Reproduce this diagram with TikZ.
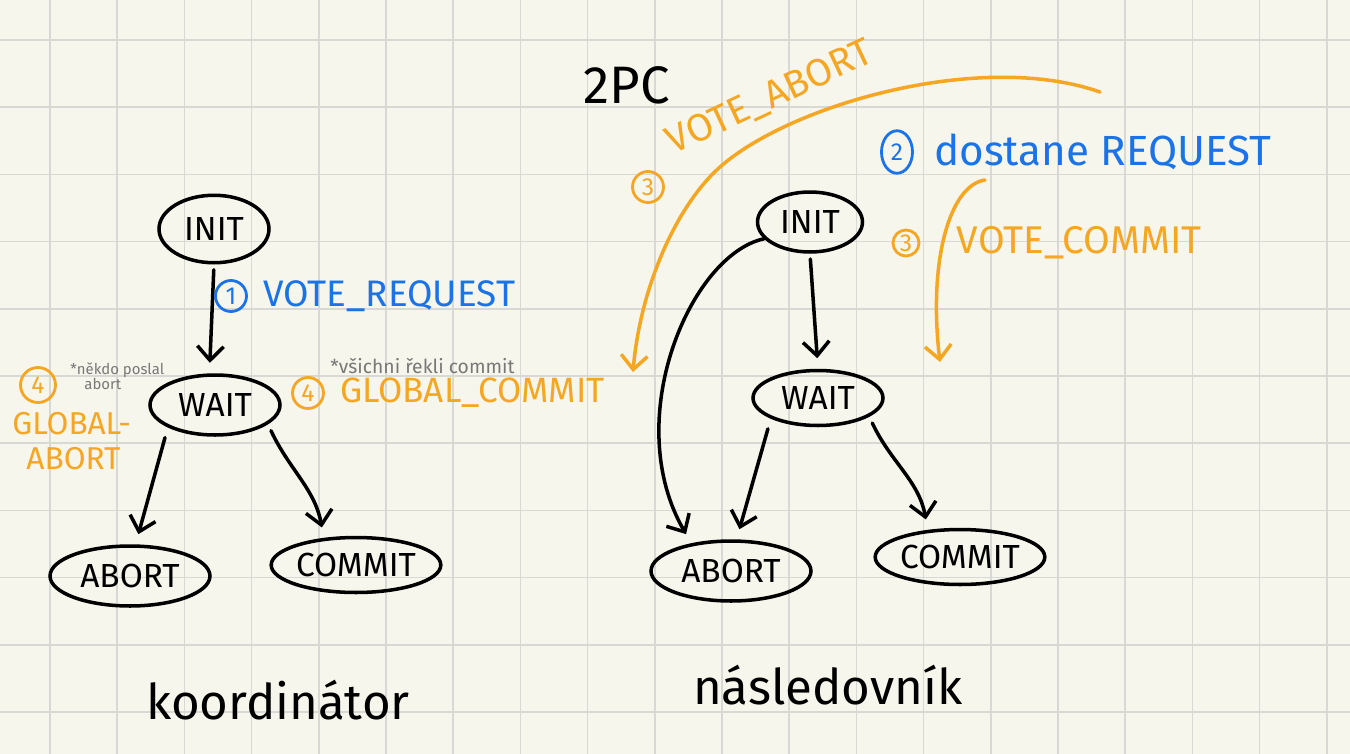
\documentclass[tikz,border=0pt]{standalone}
\usepackage{fontspec}
\setmainfont{Fira Sans}
\usetikzlibrary{arrows.meta, positioning, shapes.geometric, calc}
\definecolor{PaperBg}{RGB}{247,246,236}
\definecolor{GridGray}{RGB}{216,216,212}
\definecolor{PenOrange}{RGB}{245,166,35}
\definecolor{PenBlue}{RGB}{26,115,232}
\definecolor{PenGray}{RGB}{120,120,120}

\begin{document}
\begin{tikzpicture}[x=0.02cm, y=-0.02cm]

\tikzset{
stnode/.style args={#1/#2}{
draw,
ellipse,
line width=2pt,
inner sep=0pt,
minimum width=#1,
minimum height=#2,
font=\fontsize{19}{22}\selectfont
},
arr/.style={-{Straight Barb[length=8pt,width=15pt]}, line width=2pt, line cap=round, shorten >=6pt},
note/.style={-{Straight Barb[length=8pt,width=15pt]}, PenOrange, line width=2pt, line cap=round},
num/.style={draw=#1, text=#1, circle, line width=1.6pt, inner sep=0pt, minimum size=0.62cm,
font=\fontsize{14}{16}\selectfont},
lbl/.style={text=#1, inner sep=0pt}
}

\useasboundingbox (0,0) rectangle (1350,754);
\fill[PaperBg] (0,0) rectangle (1350,754);
\foreach \i in {0,...,19}
\draw[GridGray, line width=1pt] ({50+67.2*\i},0) -- ({50+67.2*\i},754);
\foreach \j in {0,...,10}
\draw[GridGray, line width=1pt] (0,{40+67.2*\j}) -- (1350,{40+67.2*\j});

\node[font=\fontsize{30}{34}\selectfont] (title) at (627,85) {2PC};

\node[stnode={2.2cm/1.35cm}] (initK) at (214,229) {INIT};
\node[stnode={2.6cm/1.2cm}] (waitK) at (215,405) {WAIT};
\node[stnode={3.2cm/1.2cm}] (abortK) at (130,576) {ABORT};
\node[stnode={3.2cm/1.1cm}] (commitK) at (356,565) {COMMIT};

\node[stnode={2.1cm/1.2cm}] (initN) at (810,222) {INIT};
\node[stnode={2.6cm/1.1cm}] (waitN) at (818,398) {WAIT};
\node[stnode={3.2cm/1.2cm}] (abortN) at (731,571) {ABORT};
\node[stnode={3.2cm/1.1cm}] (commitN) at (960,557) {COMMIT};

\draw[arr, shorten <=3pt] (initK.south) -- (waitK.100);
\draw[arr, shorten <=6pt] (waitK.south west) -- (abortK.80);
\draw[arr, shorten <=4pt] (waitK.-20) to[out=-65, in=100] (commitK.140);

\draw[arr, shorten <=3pt] (initN.south) -- (waitN.north);
\draw[arr] (initN.200) .. controls (690,255) and (620,420) .. (abortN.145);
\draw[arr, shorten <=6pt] (waitN.south west) -- (abortN.80);
\draw[arr, shorten <=4pt] (waitN.-20) to[out=-65, in=100] (commitN.140);

\node[num=PenBlue] (n1) at (231,296) {1};
\node[lbl=PenBlue, font=\fontsize{21}{24}\selectfont, right=0.3cm of n1] (voteReq) {VOTE\_REQUEST};

\node[num=PenOrange] (n4c) at (308,393) {4};
\node[lbl=PenOrange, font=\fontsize{20}{24}\selectfont, right=0.3cm of n4c] (globCommit) {GLOBAL\_COMMIT};
\node[lbl=PenGray, font=\fontsize{11}{13}\selectfont, anchor=south west] (allCommit) at (330,374) {*všichni řekli commit};

\node[num=PenOrange, minimum size=0.7cm] (n4a) at (38,385) {4};
\node[lbl=PenGray, font=\fontsize{8.5}{9}\selectfont, align=left, anchor=north west] (someAbort) at (70,362) {*někdo poslal\\\hspace*{8pt}abort};
\node[lbl=PenOrange, font=\fontsize{18}{20}\selectfont, align=left, anchor=north west] (globAbort) at (12,412) {GLOBAL-\\\hspace*{8pt}ABORT};

\node[num=PenOrange] (n3a) at (648,187) {3};
\node[lbl=PenOrange, font=\fontsize{22}{24}\selectfont, rotate=25] (voteAbort) at (770,98) {VOTE\_ABORT};
\coordinate (abortTail) at (1100,92);
\coordinate (abortTip) at (633,372);
\draw[note] (abortTail) .. controls (980,50) and (790,105) .. (720,167)
.. controls (675,207) and (640,290) .. (abortTip);

\node[num=PenBlue, minimum width=0.62cm, minimum height=0.85cm, ellipse] (n2) at (897,152) {2};
\node[lbl=PenBlue, font=\fontsize{24}{28}\selectfont, right=0.4cm of n2] (gotReq) {dostane REQUEST};

\node[num=PenOrange, minimum size=0.52cm] (n3b) at (906,243) {3};
\node[lbl=PenOrange, font=\fontsize{22}{24}\selectfont, right=0.72cm of n3b] (voteCommit) {VOTE\_COMMIT};
\coordinate (commitTail) at (985,180);
\coordinate (commitTip) at (940,362);
\draw[note] (commitTail) .. controls (950,185) and (928,260) .. (commitTip);

\node[font=\fontsize{28}{32}\selectfont] (coordName) at (278,700) {koordinátor};
\node[font=\fontsize{28}{32}\selectfont] (followName) at (828,685) {následovník};

\end{tikzpicture}
\end{document}
